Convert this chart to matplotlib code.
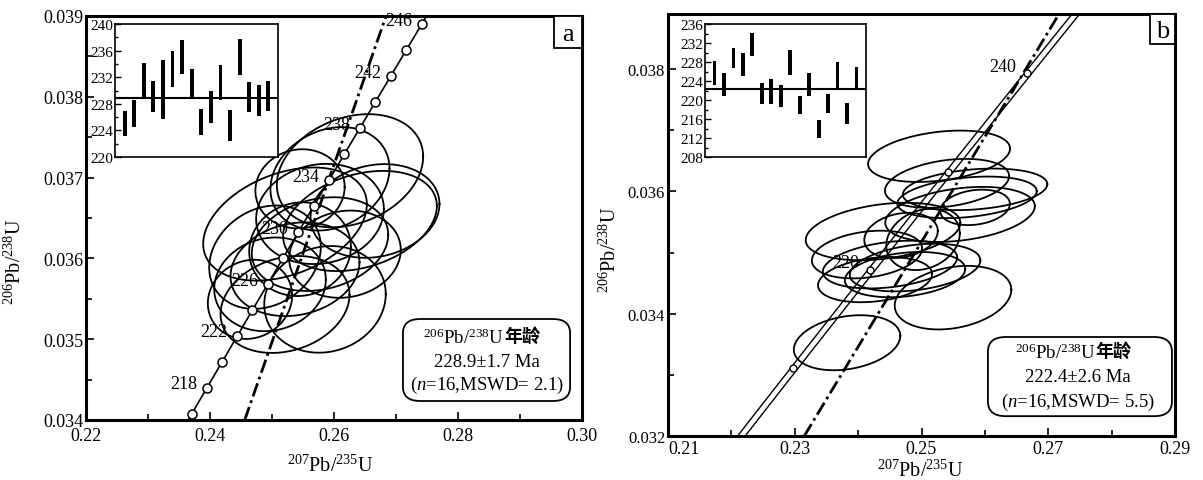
import numpy as np
import matplotlib
matplotlib.use("Agg")
import matplotlib.pyplot as plt
from matplotlib.patches import FancyBboxPatch, Rectangle
from matplotlib.ticker import MultipleLocator, FixedLocator, FormatStrFormatter

plt.rcParams['font.family'] = ['Liberation Serif', 'Noto Sans CJK SC']
plt.rcParams['mathtext.fontset'] = 'custom'
plt.rcParams['mathtext.rm'] = 'Liberation Serif'
plt.rcParams['mathtext.it'] = 'Liberation Serif:italic'

# U decay constants (1/yr)
L238 = 1.55125e-10
L235 = 9.8485e-10

# ---------------- panel a data ----------------
a_cx = [0.26258, 0.25935, 0.25452, 0.26661, 0.26419, 0.25774, 0.25210, 0.25774,
        0.25452, 0.26177, 0.24887, 0.25371, 0.24968, 0.24645, 0.25855, 0.25210]
a_cy = [0.037085, 0.036985, 0.036861, 0.036587, 0.036463, 0.036550, 0.036425, 0.036177,
        0.036114, 0.036052, 0.036015, 0.035866, 0.035679, 0.035493, 0.035493, 0.035430]
a_ex = [0.0118, 0.0096, 0.0072, 0.0104, 0.0124, 0.0103, 0.0132, 0.0110,
        0.0082, 0.0090, 0.0090, 0.0104, 0.0090, 0.0068, 0.0098, 0.0104]
a_ey = [0.00070, 0.00064, 0.00049, 0.00058, 0.00062, 0.00062, 0.00070, 0.00058,
        0.00058, 0.00054, 0.00064, 0.00058, 0.00058, 0.00049, 0.00066, 0.00060]
a_rho = [0.25, 0.20, 0.05, 0.15, 0.30, 0.10, 0.35, 0.20,
         0.05, 0.10, 0.20, 0.15, 0.10, 0.10, 0.10, 0.20]
a_marks = list(range(216, 247, 2))
a_labels = list(range(218, 247, 4))
a_ref_x = [0.2456, 0.2684]
a_ref_y = [0.0340, 0.0390]
a_age_hi = [226.9, 228.5, 234.15, 231.5, 234.6, 235.9, 237.65, 233.25,
            227.15, 229.9, 233.9, 227.0, 237.75, 231.25, 230.85, 231.5]
a_age_lo = [223.2, 224.5, 228.9, 226.75, 225.65, 230.5, 232.5, 228.75,
            223.35, 225.15, 228.5, 222.4, 232.35, 226.75, 226.1, 226.85]
a_mean = 228.9
a_text = ["228.9\u00b11.7 Ma", "(n=16,MSWD= 2.1)"]

# ---------------- panel b data ----------------
b_cx = [0.25277, 0.25403, 0.25845, 0.25718, 0.25845, 0.25608, 0.24393, 0.24677,
        0.25024, 0.24140, 0.24503, 0.24898, 0.24740, 0.24267, 0.25497, 0.23825]
b_cy = [0.036574, 0.036131, 0.036033, 0.035902, 0.035738, 0.035623, 0.035344, 0.035279,
        0.035213, 0.034967, 0.034803, 0.034754, 0.034639, 0.034557, 0.034262, 0.033525]
b_ex = [0.0112, 0.0098, 0.0114, 0.0110, 0.0055, 0.0118, 0.0122, 0.0058,
        0.0058, 0.0087, 0.0106, 0.0103, 0.0095, 0.0090, 0.0092, 0.0084]
b_ey = [0.00042, 0.00040, 0.00034, 0.00034, 0.00029, 0.00045, 0.00047, 0.00037,
        0.00050, 0.00039, 0.00039, 0.00039, 0.00037, 0.00037, 0.00052, 0.00045]
b_rho = [0.30, 0.30, 0.25, 0.30, 0.20, 0.30, 0.30, 0.20,
         0.20, 0.25, 0.30, 0.30, 0.25, 0.25, 0.25, 0.25]
b_marks = [210, 220, 230, 240]
b_labels = [220, 240]
b_band = [-0.0004, 0.0008]
b_ref_x = [0.2315, 0.2717]
b_ref_y = [0.0320, 0.0389]
b_age_hi = [228.14, 225.63, 230.94, 229.87, 234.03, 223.62, 224.34, 223.12,
            230.58, 220.89, 225.63, 215.72, 221.18, 227.93, 219.46, 226.85]
b_age_lo = [223.26, 220.89, 226.78, 225.13, 229.22, 219.10, 219.17, 218.45,
            225.34, 217.02, 220.89, 211.92, 217.30, 222.33, 215.00, 222.04]
b_mean = 222.4
b_text = ["222.4\u00b12.6 Ma", "(n=16,MSWD= 5.5)"]


def concordia(t_ma):
    t = np.asarray(t_ma, dtype=float) * 1e6
    return np.exp(L235 * t) - 1.0, np.exp(L238 * t) - 1.0


def error_ellipse(ax, cx, cy, ex, ey, rho, lw=1.3):
    th = np.linspace(0, 2 * np.pi, 240)
    x = cx + ex * np.cos(th)
    y = cy + ey * (rho * np.cos(th) + np.sqrt(1 - rho ** 2) * np.sin(th))
    ax.plot(x, y, color='black', lw=lw, zorder=3)


def style_main(ax, xmajor, xminor, ymaj, fs_x, fs_y, xpad):
    for s in ax.spines.values():
        s.set_linewidth(2.2)
    ax.xaxis.set_major_locator(FixedLocator(xmajor))
    ax.xaxis.set_minor_locator(FixedLocator(xminor))
    ax.yaxis.set_major_locator(MultipleLocator(ymaj))
    ax.yaxis.set_minor_locator(MultipleLocator(ymaj / 2))
    ax.xaxis.set_major_formatter(FormatStrFormatter('%.2f'))
    ax.yaxis.set_major_formatter(FormatStrFormatter('%.3f'))
    ax.tick_params(which='both', direction='in', top=False, right=False, width=1.2)
    ax.tick_params(which='major', length=6)
    ax.tick_params(which='minor', length=4)
    ax.tick_params(axis='x', labelsize=fs_x, pad=xpad)
    ax.tick_params(axis='y', labelsize=fs_y, pad=2)


def inset(fig, rect, hi, lo, mean, ylim, ymaj):
    ins = fig.add_axes(rect)
    pos = np.arange(1, len(hi) + 1)
    ins.bar(pos, np.array(hi) - np.array(lo), bottom=lo, width=0.4, color='black')
    ins.axhline(mean, color='black', lw=1.5)
    ins.set_xlim(0, len(hi) + 1)
    ins.set_ylim(*ylim)
    ins.set_xticks([])
    ins.yaxis.set_major_locator(MultipleLocator(ymaj))
    ins.yaxis.set_minor_locator(MultipleLocator(ymaj / 2))
    ins.tick_params(axis='y', which='both', direction='in', labelsize=11, pad=1, width=1)
    ins.tick_params(axis='y', which='major', length=4)
    ins.tick_params(axis='y', which='minor', length=2.5)
    for s in ins.spines.values():
        s.set_linewidth(1.2)
    return ins


def age_box(ax, box, xc, ys, lines, fs=13.5):
    x0, y0, x1, y1 = box
    patch = FancyBboxPatch((x0, y0), x1 - x0, y1 - y0, transform=ax.transAxes,
                           boxstyle='round,pad=0,rounding_size=0.035',
                           fc='white', ec='black', lw=1.3, zorder=6)
    ax.add_patch(patch)
    ax.text(xc + 0.035, ys[0], r'$^{206}$Pb/$^{238}$U', transform=ax.transAxes,
            ha='right', va='center', fontsize=fs, zorder=7)
    ax.text(xc + 0.035, ys[0] + 0.004, '年龄', transform=ax.transAxes, ha='left',
            va='center', fontsize=fs - 0.5, fontweight='bold',
            family=['Noto Sans CJK SC'], zorder=7)
    ax.text(xc, ys[1], lines[0], transform=ax.transAxes, ha='center', va='center',
            fontsize=fs, zorder=7)
    rest = lines[1].split('n', 1)[1]
    ax.text(xc, ys[2], r'(${\it n}$' + rest, transform=ax.transAxes, ha='center',
            va='center', fontsize=fs, zorder=7)


def panel_tag(ax, x0, y0, tag):
    ax.add_patch(Rectangle((x0, y0), 1 - x0, 1 - y0, transform=ax.transAxes,
                           fc='white', ec='black', lw=1.3, zorder=6))
    ax.text((1 + x0) / 2, (1 + y0) / 2 - 0.005, tag, transform=ax.transAxes,
            ha='center', va='center', fontsize=19, zorder=7)


fig = plt.figure(figsize=(12.03, 4.81), dpi=100)
tt = np.linspace(195, 260, 400)
cx_, cy_ = concordia(tt)

# ---------------- panel a ----------------
axA = fig.add_axes([86 / 1203, 60 / 481, 496 / 1203, 404 / 481])
axA.set_xlim(0.22, 0.30)
axA.set_ylim(0.034, 0.039)
style_main(axA, [0.22, 0.24, 0.26, 0.28, 0.30], [0.23, 0.25, 0.27, 0.29], 0.001,
           13, 13, 5)

axA.plot(cx_, cy_, color='black', lw=1.2, zorder=2)
mx, my = concordia(a_marks)
axA.plot(mx, my, 'o', ms=6.5, mfc='white', mec='black', mew=1.1, zorder=5)
for t in a_labels:
    x, y = concordia(t)
    axA.annotate(str(t), (x, y), xytext=(-7, 3), textcoords='offset points',
                 ha='right', va='center', fontsize=13, zorder=5)
axA.plot(a_ref_x, a_ref_y, color='black', lw=2.0, ls=(0, (5, 1.5, 1, 1.5)), zorder=2)

for i in range(len(a_cx)):
    error_ellipse(axA, a_cx[i], a_cy[i], a_ex[i], a_ey[i], a_rho[i])

age_box(axA, (0.639, 0.047, 0.976, 0.25), 0.808, (0.205, 0.146, 0.089), a_text)
panel_tag(axA, 0.9435, 0.921, 'a')

fig.text(330 / 1203, 1 - 466 / 481, r'$^{207}$Pb/$^{235}$U', ha='center', va='center',
         fontsize=14.5)
fig.text(15 / 1203, 1 - 262 / 481, r'$^{206}$Pb/$^{238}$U', ha='center', va='center',
         fontsize=14.5, rotation=90)

inset(fig, [115 / 1203, 1 - 158 / 481, 163 / 1203, 133 / 481],
      a_age_hi, a_age_lo, a_mean, (220, 240), 4)

# ---------------- panel b ----------------
axB = fig.add_axes([668 / 1203, 44 / 481, 507 / 1203, 422 / 481])
axB.set_xlim(0.21, 0.29)
axB.set_ylim(0.032, 0.0389)
style_main(axB, [0.21, 0.23, 0.25, 0.27, 0.29], [0.22, 0.24, 0.26, 0.28], 0.002,
           13, 12, 3)

for off in b_band:
    axB.plot(cx_ + off, cy_, color='black', lw=1.0, zorder=2)
mx, my = concordia(b_marks)
axB.plot(mx, my, 'o', ms=5, mfc='white', mec='black', mew=1.0, zorder=5)
for t in b_labels:
    x, y = concordia(t)
    axB.annotate(str(t), (x, y), xytext=(-8, 5), textcoords='offset points',
                 ha='right', va='center', fontsize=13, zorder=5)
axB.plot(b_ref_x, b_ref_y, color='black', lw=2.0, ls=(0, (5, 1.5, 1, 1.5)), zorder=2)

for i in range(len(b_cx)):
    error_ellipse(axB, b_cx[i], b_cy[i], b_ex[i], b_ey[i], b_rho[i])

age_box(axB, (0.631, 0.047, 0.994, 0.2346), 0.8087, (0.199, 0.140, 0.083), b_text)
panel_tag(axB, 0.951, 0.929, 'b')

fig.text(920 / 1203, 1 - 471 / 481, r'$^{207}$Pb/$^{235}$U', ha='center', va='center',
         fontsize=14.5)
fig.text(610 / 1203, 1 - 250 / 481, r'$^{206}$Pb/$^{238}$U', ha='center', va='center',
         fontsize=14.5, rotation=90)

inset(fig, [705 / 1203, 1 - 158 / 481, 161 / 1203, 133 / 481],
      b_age_hi, b_age_lo, b_mean, (208, 236), 4)

# the first x label starts at the corner so it clears the lowest y label
fig.canvas.draw()
axB.get_xticklabels()[0].set_horizontalalignment('left')

fig.savefig('out.png', dpi=100)
